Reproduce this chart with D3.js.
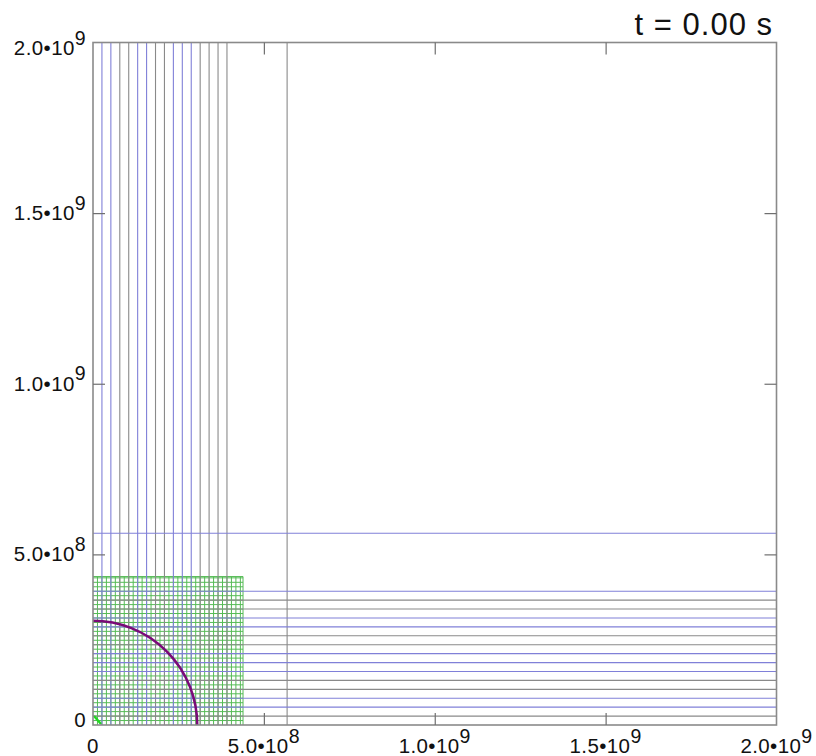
<!DOCTYPE html>
<html>
<head>
<meta charset="utf-8">
<script src="https://cdn.jsdelivr.net/npm/d3@7"></script>
<style>
  html, body { margin: 0; padding: 0; background: #ffffff; }
  text { font-family: "Liberation Sans", Arial, Helvetica, sans-serif; fill: #111; }
</style>
</head>
<body>
<svg id="chart" width="816" height="756"></svg>
<script>
// ---- domain and axis labels ----
const domainMax = 2e9;
const tickValues = [0, 5e8, 1e9, 1.5e9, 2e9];
const tickMantissa = ["0", "5.0\u202210", "1.0\u202210", "1.5\u202210", "2.0\u202210"];
const tickExponent = ["", "8", "9", "9", "9"];
const innerTicks = [5e8, 1e9, 1.5e9];
const timeLabel = "t = 0.00 s";

// ---- coarse mesh edges (same in x and y), then one stretched cell ----
const coarseEdgesX = [0.2613e8, 0.5227e8, 0.7840e8, 1.0453e8, 1.3067e8, 1.5680e8, 1.8293e8,
                      2.0907e8, 2.3520e8, 2.6133e8, 2.8747e8, 3.1360e8, 3.3973e8, 3.6587e8,
                      3.9200e8, 5.6800e8];
const coarseEdgesY = [0.2613e8, 0.5227e8, 0.7840e8, 1.0453e8, 1.3067e8, 1.5680e8, 1.8293e8,
                      2.0907e8, 2.3520e8, 2.6133e8, 2.8747e8, 3.1360e8, 3.3973e8, 3.6587e8,
                      3.9200e8, 5.6200e8];
// processor colouring of each coarse line: "b" blue, "g" grey
const coarseColourX = ["b","b","g","g","b","b","g","g","b","b","b","g","g","g","g","g"];
const coarseColourY = ["g","b","b","g","g","b","b","b","g","g","b","b","g","g","b","b"];

// ---- refined (level 2) patch near the origin ----
const fineCell = 1.3067e7;
const fineExtentX = 4.39e8;
const fineExtentY = 4.35e8;

// ---- interface contour (quarter circle) and inner marker ----
const contourRadius = 3.05e8;
const innerMarkX = [0.03e8, 0.234e8];
const innerMarkY = [0.264e8, 0.029e8];

const colours = { b: "#8080d8", g: "#8a8a8a", fine: "#55bb55", contour: "#7a0a78",
                  marker: "#22d822", frame: "#8a8a8a" };

const svg = d3.select("#chart");
const x = d3.scaleLinear().domain([0, domainMax]).range([93, 776.5]);
const y = d3.scaleLinear().domain([0, domainMax]).range([725, 42.5]);

// refined patch lines
const fineXs = d3.range(fineCell, fineExtentX - 1, fineCell).concat([fineExtentX]);
const fineYs = d3.range(fineCell, fineExtentY - 1, fineCell).concat([fineExtentY]);
const gFine = svg.append("g").attr("stroke", colours.fine).attr("stroke-width", 1);
gFine.selectAll("line.v").data(fineXs).join("line")
  .attr("x1", d => x(d)).attr("x2", d => x(d))
  .attr("y1", y(0)).attr("y2", y(fineExtentY));
gFine.selectAll("line.h").data(fineYs).join("line")
  .attr("y1", d => y(d)).attr("y2", d => y(d))
  .attr("x1", x(0)).attr("x2", x(fineExtentX));

// coarse mesh lines spanning the whole domain
const gCoarse = svg.append("g").attr("stroke-width", 1.1);
gCoarse.selectAll("line.v").data(coarseEdgesX).join("line")
  .attr("stroke", (d, i) => colours[coarseColourX[i]])
  .attr("x1", d => x(d)).attr("x2", d => x(d))
  .attr("y1", y(0)).attr("y2", y(domainMax));
gCoarse.selectAll("line.h").data(coarseEdgesY).join("line")
  .attr("stroke", (d, i) => colours[coarseColourY[i]])
  .attr("y1", d => y(d)).attr("y2", d => y(d))
  .attr("x1", x(0)).attr("x2", x(domainMax));

// interface contour
const p = d3.path();
p.arc(x(0), y(0), x(contourRadius) - x(0), -Math.PI / 2, 0);
svg.append("path").attr("d", p.toString())
  .attr("fill", "none").attr("stroke", colours.contour).attr("stroke-width", 2.6);

// inner marker
svg.append("line")
  .attr("x1", x(innerMarkX[0])).attr("y1", y(innerMarkY[0]))
  .attr("x2", x(innerMarkX[1])).attr("y2", y(innerMarkY[1]))
  .attr("stroke", colours.marker).attr("stroke-width", 2.4);

// frame
svg.append("rect")
  .attr("x", x(0)).attr("y", y(domainMax))
  .attr("width", x(domainMax) - x(0)).attr("height", y(0) - y(domainMax))
  .attr("fill", "none").attr("stroke", colours.frame).attr("stroke-width", 1.6);

// inward ticks on all four sides
const tickLen = 12;
function styleTicks(g) {
  g.select(".domain").remove();
  g.selectAll(".tick line").attr("stroke", "#6f6f6f").attr("stroke-width", 1.2);
  g.selectAll(".tick text").remove();
}
svg.append("g").attr("transform", `translate(0,${y(0)})`)
  .call(d3.axisBottom(x).tickValues(innerTicks).tickSize(-tickLen)).call(styleTicks);
svg.append("g").attr("transform", `translate(0,${y(domainMax)})`)
  .call(d3.axisTop(x).tickValues(innerTicks).tickSize(-tickLen)).call(styleTicks);
svg.append("g").attr("transform", `translate(${x(0)},0)`)
  .call(d3.axisLeft(y).tickValues(innerTicks).tickSize(-tickLen)).call(styleTicks);
svg.append("g").attr("transform", `translate(${x(domainMax)},0)`)
  .call(d3.axisRight(y).tickValues(innerTicks).tickSize(-tickLen)).call(styleTicks);

// tick labels with superscript exponents
const mainSize = 20.5, supSize = 19.5;
function addLabel(t, i) {
  t.append("tspan").attr("font-size", mainSize).text(tickMantissa[i]);
  if (tickExponent[i]) {
    t.append("tspan").attr("font-size", supSize).attr("dy", -10.5).text(tickExponent[i]);
  }
}
tickValues.forEach((v, i) => {
  const t = svg.append("text").attr("x", x(v)).attr("y", 753)
    .attr("text-anchor", "middle").attr("letter-spacing", 0.4);
  addLabel(t, i);
});
tickValues.forEach((v, i) => {
  const yy = Math.max(y(domainMax) + 5.5, Math.min(y(0) - 5.5, y(v)));
  const t = svg.append("text").attr("x", 86).attr("y", yy + 7)
    .attr("text-anchor", "end").attr("letter-spacing", 0.4);
  addLabel(t, i);
});

// time stamp
svg.append("text").attr("x", 773).attr("y", 35).attr("text-anchor", "end")
  .attr("font-size", 31).attr("letter-spacing", 1).text(timeLabel);
</script>
</body>
</html>
